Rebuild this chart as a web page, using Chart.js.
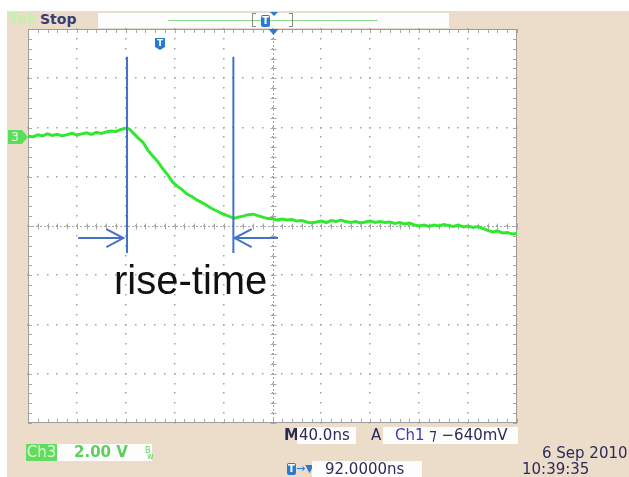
<!DOCTYPE html>
<html>
<head>
<meta charset="utf-8">
<script src="https://cdn.jsdelivr.net/npm/chart.js@4/dist/chart.umd.min.js"></script>
<style>
  html, body { margin: 0; padding: 0; background: #fff; }
  #wrap { position: relative; width: 629px; height: 477px; overflow: hidden; font-family: "DejaVu Sans", sans-serif; }
  #wrap div { position: absolute; }
  .panel { background: #ecdcca; }
  .box { background: #fdfdfd; }
  .lbl { font-size: 15px; line-height: 17px; color: #2b2b58; white-space: pre; }
  canvas { position: absolute; left: 0; top: 0; }
</style>
</head>
<body>
<div id="wrap">
  <div class="panel" style="left:7px;top:11px;width:622px;height:466px"></div>

  <!-- top status bar -->
  <div class="lbl" style="left:8px;top:11px;font-weight:bold;font-size:15px;color:#c6f1ab">Tek</div>
  <div class="lbl" style="left:40px;top:11px;font-weight:bold;font-size:14px;color:#3c3c74">Stop</div>
  <div class="box" style="left:97px;top:12px;width:351px;height:15px;border:1px solid #e6ded2"></div>
  <div style="left:168px;top:20px;width:210px;height:1px;background:#86dc86"></div>
  <div style="left:252px;top:13px;width:3px;height:12px;border:1px solid #8a8a8a;border-right:none"></div>
  <div style="left:289px;top:13px;width:3px;height:12px;border:1px solid #8a8a8a;border-left:none"></div>
  <div style="left:261px;top:15px;width:9px;height:12px;background:#2a7bd0;border-radius:2px;color:#fff;font-size:10px;line-height:12px;text-align:center;font-weight:bold">T</div>
  <div style="left:270px;top:12px;width:0;height:0;border-left:4px solid transparent;border-right:4px solid transparent;border-top:4px solid #2a7bd0"></div>

  <canvas id="scope" width="629" height="477"></canvas>

  <!-- annotation -->
  <div style="left:114px;top:256px;font-family:'Liberation Sans',Arial,sans-serif;font-size:40px;line-height:48px;color:#111">rise-time</div>

  <!-- bottom readouts -->
  <div class="lbl" style="left:284px;top:427px;font-weight:bold">M</div>
  <div class="box lbl" style="left:297px;top:427px;width:59px;height:17px;padding-left:2px;box-sizing:border-box">40.0ns</div>
  <div class="lbl" style="left:371px;top:427px">A</div>
  <div class="box lbl" style="left:383px;top:427px;width:135px;height:17px"><span style="margin-left:12px;color:#3b3bb4">Ch1</span> ⁊ −640mV</div>

  <div class="lbl" style="left:26px;top:444px;width:31px;height:17px;background:#62dc5e;color:#d9ffd2;text-align:center">Ch3</div>
  <div class="box lbl" style="left:57px;top:444px;width:95px;height:17px;color:#5cd05c;font-weight:bold"><span style="margin-left:17px">2.00 V</span><span style="position:absolute;left:88px;top:-2px;font-size:8px;font-weight:normal">B</span><span style="position:absolute;left:90px;top:4px;font-size:8px;font-weight:normal">w</span></div>

  <div style="left:287px;top:463px;width:9px;height:12px;background:#2a7bd0;border-radius:2px;color:#fff;font-size:10px;line-height:12px;text-align:center;font-weight:bold">T</div>
  <div class="lbl" style="left:296px;top:460px;font-size:11px;color:#2a7bd0">→▼</div>
  <div class="box lbl" style="left:312px;top:461px;width:110px;height:16px;line-height:16px"><span style="margin-left:13px">92.0000ns</span></div>

  <div class="lbl" style="left:542px;top:445px">6 Sep 2010</div>
  <div class="lbl" style="left:522px;top:461px">10:39:35</div>
</div>

<script>
// channel 3 trace (time in ns, trigger at 0; volts about screen centre)
const timeNs = [-200, -196, -192, -188, -184, -180, -176, -172, -168, -164, -160, -156, -152, -148, -144, -140,
                -136, -132, -128, -124, -120, -117, -114, -110, -106, -102, -98, -94, -90, -86, -82, -78,
                -74, -70, -66, -62, -58, -54, -50, -46, -42, -38, -34, -31, -28, -24, -20, -16,
                -12, -8, -4, 0, 4, 8, 12, 16, 20, 24, 28, 32, 36, 40, 44, 48,
                52, 56, 60, 64, 68, 72, 76, 80, 84, 88, 92, 96, 100, 104, 108, 112,
                116, 120, 124, 128, 132, 136, 140, 144, 148, 152, 156, 160, 164, 168, 172, 176,
                180, 184, 188, 192, 196, 200];
const ch3Volts = [3.66, 3.62, 3.70, 3.66, 3.74, 3.68, 3.72, 3.66, 3.71, 3.76, 3.70, 3.74, 3.78, 3.72, 3.80, 3.76,
                  3.82, 3.86, 3.84, 3.92, 3.98, 3.94, 3.78, 3.58, 3.40, 3.08, 2.84, 2.62, 2.34, 2.10, 1.80, 1.62,
                  1.48, 1.30, 1.20, 1.06, 0.96, 0.84, 0.72, 0.62, 0.52, 0.44, 0.36, 0.32, 0.36, 0.40, 0.46, 0.48,
                  0.42, 0.36, 0.30, 0.30, 0.24, 0.28, 0.24, 0.26, 0.20, 0.22, 0.16, 0.12, 0.16, 0.20, 0.14, 0.22,
                  0.18, 0.24, 0.18, 0.14, 0.18, 0.12, 0.16, 0.20, 0.14, 0.18, 0.14, 0.16, 0.10, 0.14, 0.08, 0.12,
                  0.04, 0.00, 0.04, -0.02, 0.04, 0.00, 0.06, 0.02, -0.02, 0.04, -0.04, 0.00, -0.06, -0.02, -0.10, -0.18,
                  -0.24, -0.20, -0.28, -0.26, -0.32, -0.30];

// 40 ns/div, 2 V/div
const timeTicks = [-200, -160, -120, -80, -40, 0, 40, 80, 120, 160, 200];
const voltTicks = [-8, -6, -4, -2, 0, 2, 4, 6, 8];

// rise-time markers and arrows
const riseMarksNs = [-119, -32];
const markSpanV = [-1.10, 6.87];
const arrowV = -0.49;
const arrowsNs = [[-159, -122], [4.5, -31]];   // [tail, tip]
const ch3GroundV = 3.62;
const trigPosNs = -92;

const graticule = {
  id: 'graticule',
  beforeDraw(chart) {
    const { ctx, chartArea: a } = chart;
    ctx.save();
    ctx.fillStyle = '#ffffff';
    ctx.fillRect(a.left, a.top, a.right - a.left, a.bottom - a.top);
    ctx.restore();
  },
  beforeDatasetsDraw(chart) {
    const { ctx, chartArea: a, scales: { x, y } } = chart;
    const minorX = [], minorY = [];
    for (let i = 0; i < timeTicks.length - 1; i++)
      for (let k = 0; k < 5; k++) minorX.push(timeTicks[i] + (timeTicks[i + 1] - timeTicks[i]) * k / 5);
    minorX.push(timeTicks[timeTicks.length - 1]);
    for (let i = 0; i < voltTicks.length - 1; i++)
      for (let k = 0; k < 5; k++) minorY.push(voltTicks[i] + (voltTicks[i + 1] - voltTicks[i]) * k / 5);
    minorY.push(voltTicks[voltTicks.length - 1]);

    ctx.save();
    ctx.fillStyle = '#a2a2a2';
    // dotted major lines
    timeTicks.slice(1, -1).forEach(t => {
      const px = Math.round(x.getPixelForValue(t));
      minorY.forEach(v => ctx.fillRect(px - 1, Math.round(y.getPixelForValue(v)) - 1, 1.5, 1.5));
    });
    voltTicks.slice(1, -1).forEach(v => {
      const py = Math.round(y.getPixelForValue(v));
      minorX.forEach(t => ctx.fillRect(Math.round(x.getPixelForValue(t)) - 1, py - 1, 1.5, 1.5));
    });
    // centre cross with minor ticks
    ctx.strokeStyle = '#a8a8a8';
    ctx.lineWidth = 1;
    const cx = Math.round(x.getPixelForValue(0)) + 0.5;
    const cy = Math.round(y.getPixelForValue(0)) + 0.5;
    ctx.beginPath();
    minorY.forEach(v => {
      const py = Math.round(y.getPixelForValue(v)) + 0.5;
      ctx.moveTo(cx - 3, py); ctx.lineTo(cx + 3, py);
      ctx.moveTo(a.left, py); ctx.lineTo(a.left + 4, py);
      ctx.moveTo(a.right, py); ctx.lineTo(a.right - 4, py);
    });
    minorX.forEach(t => {
      const px = Math.round(x.getPixelForValue(t)) + 0.5;
      ctx.moveTo(px, cy - 3); ctx.lineTo(px, cy + 3);
      ctx.moveTo(px, a.top); ctx.lineTo(px, a.top + 4);
      ctx.moveTo(px, a.bottom); ctx.lineTo(px, a.bottom - 4);
    });
    ctx.stroke();
    ctx.setLineDash([2, 2]);
    ctx.beginPath();
    ctx.moveTo(cx, a.top); ctx.lineTo(cx, a.bottom);
    ctx.moveTo(a.left, cy); ctx.lineTo(a.right, cy);
    ctx.stroke();
    ctx.setLineDash([]);
    // border
    ctx.strokeStyle = '#9c9c9c';
    ctx.strokeRect(a.left + 0.5, a.top + 0.5, a.right - a.left - 1, a.bottom - a.top - 1);
    ctx.restore();
  },
  afterDatasetsDraw(chart) {
    const { ctx, chartArea: a, scales: { x, y } } = chart;
    ctx.save();
    // rise-time markers
    ctx.strokeStyle = '#4472c4';
    ctx.lineWidth = 2;
    ctx.beginPath();
    riseMarksNs.forEach(t => {
      const px = x.getPixelForValue(t);
      ctx.moveTo(px, y.getPixelForValue(markSpanV[1]));
      ctx.lineTo(px, y.getPixelForValue(markSpanV[0]));
    });
    arrowsNs.forEach(([tail, tip]) => {
      const py = y.getPixelForValue(arrowV);
      const p0 = x.getPixelForValue(tail), p1 = x.getPixelForValue(tip);
      const dir = Math.sign(p1 - p0);
      ctx.moveTo(p0, py); ctx.lineTo(p1, py);
      ctx.moveTo(p1 - dir * 17, py - 9); ctx.lineTo(p1, py); ctx.lineTo(p1 - dir * 17, py + 9);
    });
    ctx.stroke();

    // trigger position marker on top edge
    const tx = Math.round(x.getPixelForValue(0)) + 0.5;
    ctx.fillStyle = '#2a7bd0';
    ctx.beginPath();
    ctx.moveTo(tx - 5, a.top); ctx.lineTo(tx + 5, a.top); ctx.lineTo(tx, a.top + 6);
    ctx.closePath(); ctx.fill();

    // trigger point "T" flag
    const fx = Math.round(x.getPixelForValue(trigPosNs));
    ctx.beginPath();
    ctx.moveTo(fx - 5, a.top + 9); ctx.lineTo(fx + 5, a.top + 9); ctx.lineTo(fx + 5, a.top + 18);
    ctx.lineTo(fx, a.top + 21); ctx.lineTo(fx - 5, a.top + 18);
    ctx.closePath(); ctx.fill();
    ctx.fillStyle = '#fff';
    ctx.font = 'bold 9px "DejaVu Sans"';
    ctx.textAlign = 'center';
    ctx.textBaseline = 'middle';
    ctx.fillText('T', fx, a.top + 15);

    // channel 3 ground marker
    const gy = Math.round(y.getPixelForValue(ch3GroundV));
    ctx.fillStyle = '#5cdc5c';
    ctx.beginPath();
    ctx.moveTo(8, gy - 7); ctx.lineTo(22, gy - 7); ctx.lineTo(a.left, gy);
    ctx.lineTo(22, gy + 7); ctx.lineTo(8, gy + 7);
    ctx.closePath(); ctx.fill();
    ctx.fillStyle = '#e8ffe4';
    ctx.font = '12px "DejaVu Sans"';
    ctx.fillText('3', 15, gy + 1);
    ctx.restore();
  }
};

new Chart(document.getElementById('scope'), {
  type: 'line',
  data: {
    datasets: [{
      label: 'Ch3',
      data: timeNs.map((t, i) => ({ x: t, y: ch3Volts[i] })),
      borderColor: '#30e830',
      borderWidth: 3,
      pointRadius: 0,
      tension: 0
    }]
  },
  options: {
    responsive: false,
    animation: false,
    layout: { padding: { left: 28, top: 29, right: 112, bottom: 54 } },
    plugins: { legend: { display: false }, tooltip: { enabled: false } },
    scales: {
      x: { type: 'linear', min: -200, max: 200, display: false },
      y: { type: 'linear', min: -8, max: 8, display: false }
    }
  },
  plugins: [graticule]
});
</script>
</body>
</html>
